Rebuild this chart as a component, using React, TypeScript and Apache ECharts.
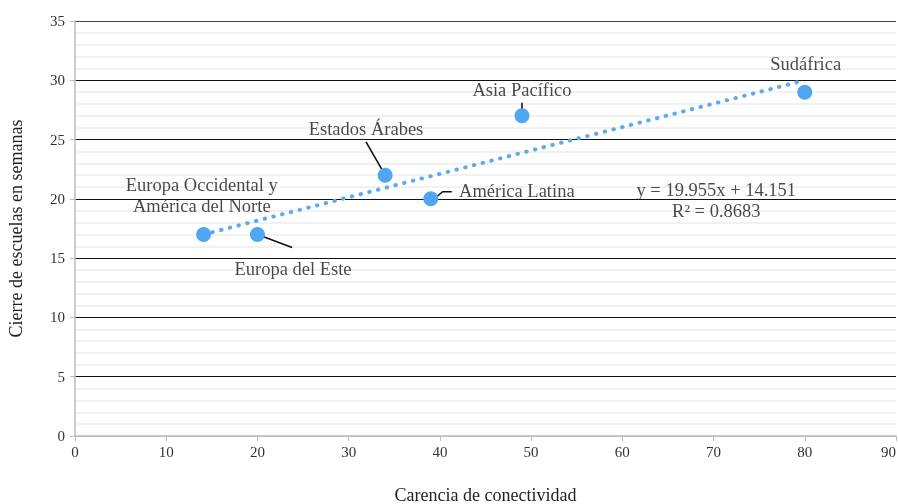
import React, { useEffect, useRef } from "react";
import * as echarts from "echarts";

const regions = ["Europa Occidental y América del Norte", "Europa del Este", "Estados Árabes", "América Latina", "Asia Pacífico", "Sudáfrica"];
const connectivityGap = [14.1, 20.0, 34.0, 39.0, 49.0, 80.0];
const closureWeeks = [17, 17, 22, 20, 27, 29];

const trendX = [14.1, 80.0];
const trendY = [17.0, 30.0];

const equationText = "y = 19.955x + 14.151\nR² = 0.8683";

// label anchors (data units)
const labelTexts = ["Europa Occidental y\nAmérica del Norte", "Europa del Este", "Estados Árabes", "América Latina", "Asia Pacífico", "Sudáfrica", equationText];
const labelX = [13.9, 23.9, 31.9, 42.1, 49.0, 80.1, 70.3];
const labelY = [20.3, 14.1, 25.9, 20.7, 29.2, 31.4, 19.9];
const labelAlign = ["center", "center", "center", "left", "center", "center", "center"];

// leader lines (data units)
const leaders: number[][][] = [
  [[31.9, 24.8], [33.7, 22.4]],
  [[20.3, 16.9], [23.8, 15.9]],
  [[39.2, 19.9], [40.3, 20.6], [41.3, 20.6]],
  [[49.0, 28.1], [49.0, 27.2]],
];

const FONT = "Liberation Serif";

export default function App() {
  const ref = useRef<HTMLDivElement>(null);
  useEffect(() => {
    const chart = echarts.init(ref.current!, null, { renderer: "svg" });
    const points = connectivityGap.map((x, i) => ({ name: regions[i], value: [x, closureWeeks[i]] }));
    const labels = labelTexts.map((t, i) => ({
      value: [labelX[i], labelY[i]],
      label: { formatter: t, align: labelAlign[i] },
    }));
    chart.setOption({
      animation: false,
      textStyle: { fontFamily: FONT },
      grid: { left: 75, right: 2, top: 21, bottom: 68, outerBoundsMode: "none", containLabel: false },
      xAxis: {
        type: "value",
        min: 0,
        max: 90,
        interval: 10,
        name: "Carencia de conectividad",
        nameLocation: "middle",
        nameGap: 50,
        nameTextStyle: { fontFamily: FONT, fontSize: 18, color: "#222" },
        axisLine: { show: true, lineStyle: { color: "#bdbdbd", width: 1.5 } },
        axisTick: { show: true, length: 5, lineStyle: { color: "#bdbdbd" } },
        axisLabel: { fontFamily: FONT, fontSize: 15, color: "#333", margin: 8, alignMaxLabel: "right" },
        splitLine: { show: false },
      },
      yAxis: {
        type: "value",
        min: 0,
        max: 35,
        interval: 5,
        name: "Cierre de escuelas en semanas",
        nameLocation: "middle",
        nameGap: 50,
        nameTextStyle: { fontFamily: FONT, fontSize: 18, color: "#222" },
        axisLine: { show: true, lineStyle: { color: "#bdbdbd", width: 1.5 } },
        axisTick: { show: true, length: 5, lineStyle: { color: "#bdbdbd" } },
        axisLabel: { fontFamily: FONT, fontSize: 15, color: "#333", margin: 10 },
        splitLine: {
          show: true,
          lineStyle: { color: ["#bdbdbd", "#111", "#111", "#111", "#111", "#111", "#111", "#444"], width: 1.2 },
        },
        minorTick: { show: false, splitNumber: 5 },
        minorSplitLine: { show: true, lineStyle: { color: "#ececec", width: 1.5 } },
      },
      series: [
        {
          type: "line",
          data: trendX.map((x, i) => [x, trendY[i]]),
          symbol: "none",
          lineStyle: { color: "#5aacf2", width: 4, type: [0.5, 8.5], cap: "round" },
          z: 3,
        },
        ...leaders.map((seg) => ({
          type: "line",
          data: seg,
          symbol: "none",
          lineStyle: { color: "#111", width: 1.6 },
          z: 4,
        })),
        {
          type: "scatter",
          data: points,
          symbolSize: 15,
          itemStyle: { color: "#4fa6f4", opacity: 1 },
          z: 5,
        },
        {
          type: "scatter",
          data: labels,
          symbolSize: 0,
          silent: true,
          label: {
            show: true,
            position: "inside",
            fontFamily: FONT,
            fontSize: 18.5,
            color: "#1a1a1a",
            lineHeight: 21,
          },
          z: 6,
        },
      ],
    });
    return () => chart.dispose();
  }, []);
  return <div ref={ref} style={{ position: "fixed", left: 0, top: 0, width: 898, height: 504 }} />;
}
